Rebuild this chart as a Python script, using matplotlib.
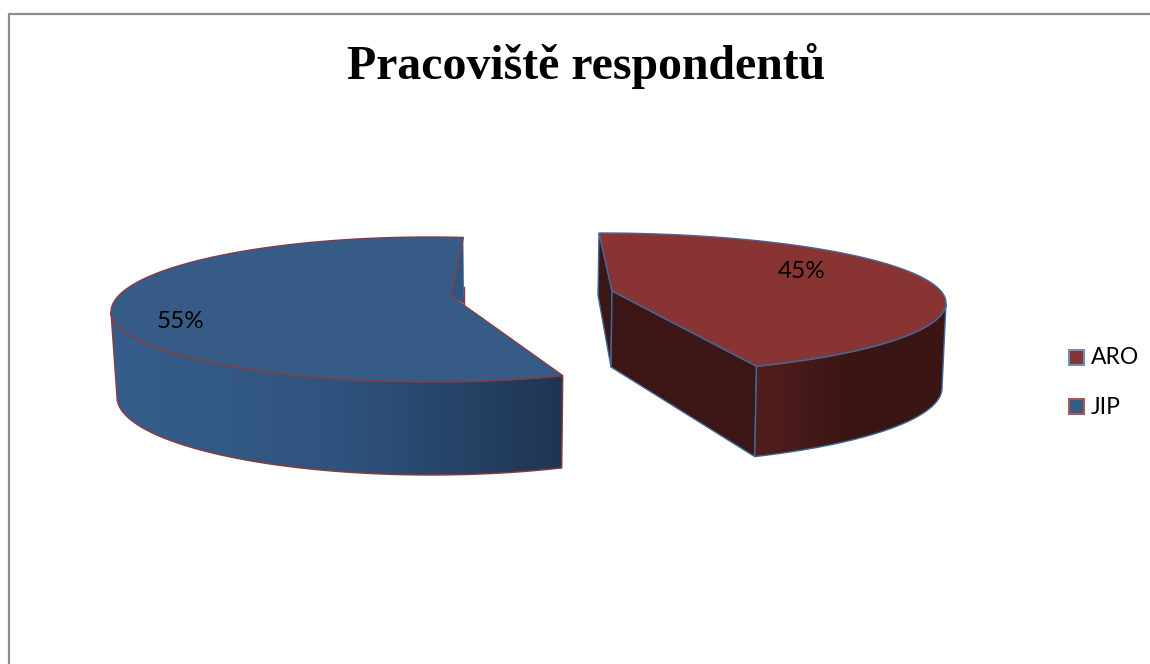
import matplotlib
matplotlib.use('Agg')
import matplotlib.pyplot as plt
import numpy as np
from matplotlib.colors import LinearSegmentedColormap
from matplotlib.patches import Polygon, Rectangle

# Datos
titulo = 'Pracoviště respondentů'
categorias = ['ARO', 'JIP']
porcentajes = [45, 55]


def arco(cx, cy, a, b_arriba, b_abajo, t0, t1):
    t = np.radians(np.linspace(t0, t1, 200))
    b = np.where(np.sin(t) >= 0, b_arriba, b_abajo)
    return np.column_stack([cx + a * np.cos(t), cy - b * np.sin(t)])


def lado(ax, puntos, colores, x0, x1, y0, y1, borde):
    # Pared curva con degradado horizontal
    cmap = LinearSegmentedColormap.from_list('lado', colores)
    pol = Polygon(puntos, closed=True, facecolor='none', edgecolor=borde, linewidth=1.0, zorder=3)
    ax.add_patch(pol)
    im = ax.imshow(np.linspace(0, 1, 256).reshape(1, -1), cmap=cmap, extent=(x0, x1, y1, y0),
                   aspect='auto', zorder=2)
    im.set_clip_path(pol)


fig = plt.figure(figsize=(11.5, 6.64), dpi=100)
ax = fig.add_axes([0, 0, 1, 1])

# Marco exterior
ax.plot([9, 9, 1150], [664, 14, 14], color='#8e8e8e', linewidth=1.6, zorder=1)

# --- JIP (azul) ---
sup_azul = '#365b87'
borde_azul = '#8a3b3d'
inicio = 84
fin = inicio + 360 * porcentajes[1] / 100 + 12.6
arriba = arco(430, 312, 319, 75, 70, inicio, fin)
abajo = arco(431, 397, 314, 78, 78, 180, fin)
apice = (451, 296)

pared = np.array([arriba[0], apice, (464, 304)])
ax.add_patch(Polygon(pared, closed=True, facecolor='#2f5480', edgecolor='none', zorder=2))
ax.plot([464, 464], [287, 304], color=borde_azul, linewidth=1.0, zorder=3)

t_arriba = np.linspace(inicio, fin, 200)
frente = arriba[t_arriba >= 180]
lado(ax, np.vstack([frente, abajo[::-1]]), ['#365e8c', '#2f537e', '#1f3552'],
     frente[0, 0], frente[-1, 0], 300, 480, borde_azul)
ax.add_patch(Polygon(np.vstack([apice, arriba]), closed=True, facecolor=sup_azul,
                     edgecolor=borde_azul, linewidth=1.0, zorder=4))

# --- ARO (rojo) ---
sup_rojo = '#883433'
borde_rojo = '#41689a'
inicio = 90
fin = inicio - 360 * porcentajes[0] / 100 + 9
arriba = arco(599, 303, 347, 70, 71, inicio, fin)
abajo = arco(599, 388, 343, 77, 77, 0, fin)
apice = (612, 291)
apice_abajo = (611, 367)
t_arriba = np.linspace(inicio, fin, 200)
frente = arriba[t_arriba <= 0]

ax.add_patch(Polygon([arriba[0], apice, apice_abajo, (598, 295)], closed=True,
                     facecolor='#3c1615', edgecolor=borde_rojo, linewidth=1.0, zorder=2))
ax.add_patch(Polygon([apice, apice_abajo, abajo[-1], arriba[-1]], closed=True,
                     facecolor='#3c1615', edgecolor=borde_rojo, linewidth=1.0, zorder=2))
lado(ax, np.vstack([frente, abajo[::-1]]), ['#3a1514', '#3a1514', '#531e1d'],
     frente[0, 0], abajo[-1, 0] - 2, 300, 470, borde_rojo)
ax.add_patch(Polygon(np.vstack([apice, arriba]), closed=True, facecolor=sup_rojo,
                     edgecolor=borde_rojo, linewidth=1.0, zorder=4))

# Etiquetas de porcentaje
ax.text(181, 322, f'{porcentajes[1]}%', fontsize=17.5, family='Lato', ha='center', va='center', zorder=5)
ax.text(802, 271, f'{porcentajes[0]}%', fontsize=17.5, family='Lato', ha='center', va='center', zorder=5)

# Leyenda
ax.add_patch(Rectangle((1069, 350), 15, 15, facecolor=sup_rojo, edgecolor='#6f8fb8', linewidth=1.5, zorder=5))
ax.add_patch(Rectangle((1069, 399), 15, 15, facecolor=sup_azul, edgecolor='#a9585a', linewidth=1.5, zorder=5))
ax.text(1091, 358, categorias[0], fontsize=16.5, family='Lato', ha='left', va='center')
ax.text(1091, 407, categorias[1], fontsize=16.5, family='Lato', ha='left', va='center')

# Titulo
ax.text(586.5, 66, titulo, fontsize=34.4, family='Liberation Serif', fontweight='bold', ha='center', va='center')

ax.set_xlim(0, 1150)
ax.set_ylim(664, 0)
ax.axis('off')

fig.savefig('out.png', dpi=100)
